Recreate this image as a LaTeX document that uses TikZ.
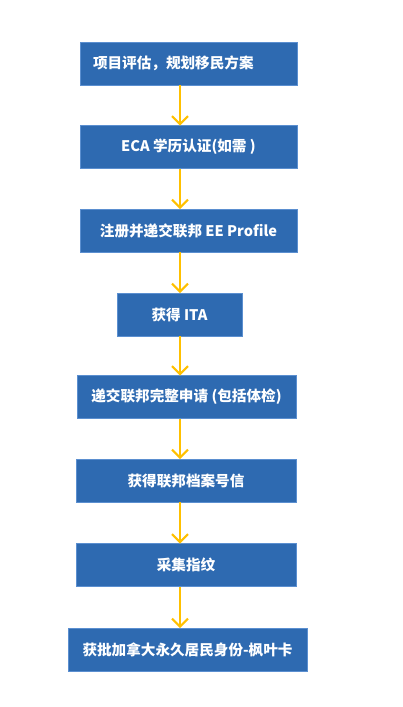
\documentclass[tikz,border=0pt]{standalone}
\usepackage{fontspec}
\newfontfamily\cjk{Noto Sans CJK SC}
\usetikzlibrary{arrows.meta}
\definecolor{boxfill}{HTML}{2E6AB1}
\definecolor{boxline}{HTML}{5B8FD0}
\definecolor{flowcol}{HTML}{FFC000}
\begin{document}
\begin{tikzpicture}[x=1pt,y=-1pt,inner sep=0pt,outer sep=0pt,
stepbox/.style={draw=boxline,fill=boxfill,rectangle,line width=1pt,minimum height=43pt,text=white,font=\cjk\bfseries\fontsize{14.6}{17}\selectfont},
flow/.style={draw=flowcol,line width=2pt,-{Straight Barb[length=8pt,width=16pt]}}]
\useasboundingbox (0,0) rectangle (403,707);
\draw (188.5,63.5) node[stepbox,minimum width=217pt,text width=191pt,inner xsep=13pt,align=left] (plan) {项目评估，规划移民方案};
\draw (188.5,147) node[stepbox,minimum width=217pt] (eca) {ECA 学历认证(如需 )};
\draw (188.5,230.5) node[stepbox,minimum width=217pt] (ee) {注册并递交联邦 EE Profile};
\draw (179.5,314.5) node[stepbox,minimum width=125pt] (ita) {获得 ITA};
\draw (186.5,397) node[stepbox,minimum width=219pt] (apply) {递交联邦完整申请 (包括体检)};
\draw (186,480.5) node[stepbox,minimum width=220pt] (file) {获得联邦档案号信};
\draw (186,565) node[stepbox,minimum width=220pt] (bio) {采集指纹};
\draw (187.5,649.5) node[stepbox,minimum width=239pt] (pr) {获批加拿大永久居民身份-枫叶卡};
\coordinate (ax) at (180,0);
\draw[flow] (plan.south -| ax) -- (eca.north -| ax);
\draw[flow] (eca.south -| ax) -- (ee.north -| ax);
\draw[flow] (ee.south -| ax) -- (ita.north -| ax);
\draw[flow] (ita.south -| ax) -- (apply.north -| ax);
\draw[flow] (apply.south -| ax) -- (file.north -| ax);
\draw[flow] (file.south -| ax) -- (bio.north -| ax);
\draw[flow] (bio.south -| ax) -- (pr.north -| ax);
\end{tikzpicture}
\end{document}
